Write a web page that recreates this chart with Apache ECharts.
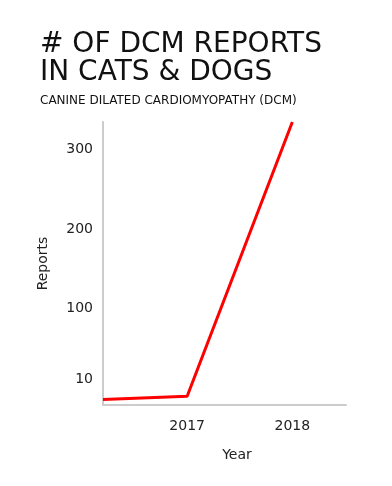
<!DOCTYPE html>
<html><head><meta charset="utf-8">
<script src="https://cdn.jsdelivr.net/npm/echarts@6/dist/echarts.min.js"></script>
<style>html,body{margin:0;padding:0;background:#fff}#c{width:392px;height:486px}</style>
</head><body><div id="c"></div>
<script>
var titleText = '# OF DCM REPORTS\nIN CATS & DOGS';
var subtitleText = 'CANINE DILATED CARDIOMYOPATHY (DCM)';
var years = [2016.2, 2017, 2018];
var reports = [-15, -11, 335];
var yTickLabels = [10, 100, 200, 300];
var xTickLabels = [2017, 2018];

var chart = echarts.init(document.getElementById('c'), null, {renderer: 'canvas'});
var font = 'DejaVu Sans';
chart.setOption({
  animation: false,
  backgroundColor: '#fff',
  title: {
    text: titleText,
    subtext: subtitleText,
    left: 35, top: 26,
    itemGap: 8,
    textStyle: {fontFamily: font, fontWeight: 'normal', fontSize: 28, lineHeight: 28, color: '#111'},
    subtextStyle: {fontFamily: font, fontSize: 12, color: '#111'}
  },
  grid: {left: 103, right: 46, top: 122, bottom: 81},
  xAxis: {
    type: 'value', min: 2016.2, max: 2018.51,
    name: 'Year', nameLocation: 'middle', nameGap: 43,
    nameTextStyle: {fontFamily: font, fontSize: 14, color: '#222', padding: [0, 0, 0, 25]},
    axisLine: {show: true, onZero: false, lineStyle: {color: '#cccccc', width: 2}},
    axisTick: {show: false}, splitLine: {show: false},
    axisLabel: {customValues: xTickLabels, fontFamily: font, fontSize: 14, color: '#222', margin: 14,
      formatter: function (v) { return String(v); }}
  },
  yAxis: {
    type: 'value', min: -22, max: 335,
    name: 'Reports', nameLocation: 'middle', nameGap: 53,
    nameTextStyle: {fontFamily: font, fontSize: 14, color: '#222'},
    axisLine: {show: true, onZero: false, lineStyle: {color: '#cccccc', width: 2}},
    axisTick: {show: false}, splitLine: {show: false},
    axisLabel: {customValues: yTickLabels, fontFamily: font, fontSize: 14, color: '#222', margin: 10}
  },
  series: [{
    type: 'line',
    data: years.map(function (y, i) { return [y, reports[i]]; }),
    symbol: 'none',
    clip: false,
    lineStyle: {color: '#ff0000', width: 3}
  }]
});
</script></body></html>
